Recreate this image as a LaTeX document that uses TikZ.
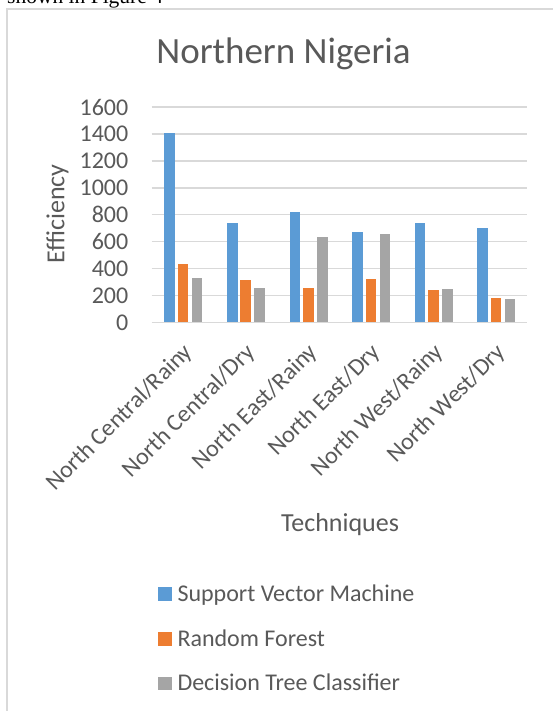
\documentclass[tikz,border=0pt]{standalone}
\usepackage{fontspec}
\setmainfont{Carlito}
\newfontfamily\serifx{Liberation Serif}
\definecolor{txtgray}{HTML}{595959}
\definecolor{gridgray}{HTML}{D9D9D9}
\definecolor{svmblue}{HTML}{5B9BD5}
\definecolor{rforange}{HTML}{ED7D31}
\definecolor{dtgray}{HTML}{A5A5A5}
\begin{document}
\begin{tikzpicture}[x=1pt,y=-1pt,
  gridline/.style={draw=gridgray,line width=1.5pt},
  frameline/.style={draw=gridgray,line width=1.6pt},
  ticklbl/.style={anchor=east,inner sep=0pt,text=txtgray,font=\fontsize{24}{28}\selectfont},
  catlbl/.style={anchor=east,inner sep=0pt,rotate=45,text=txtgray,font=\fontsize{24}{28}\selectfont},
  legtxt/.style={anchor=base west,inner sep=0pt,text=txtgray,font=\fontsize{24}{28}\selectfont},
  axtitle/.style={inner sep=0pt,text=txtgray,font=\fontsize{26}{30}\selectfont},
  barsvm/.style={fill=svmblue},
  barrf/.style={fill=rforange},
  bardt/.style={fill=dtgray}]
\useasboundingbox (0,0) rectangle (553,711);
\clip (0,0) rectangle (553,711);
% page text above the chart
\node[anchor=base west,inner sep=0pt,font=\serifx\fontsize{21.5}{24}\selectfont] (pagetext) at (7,4) {shown in Figure 4};
% chart frame
\draw[frameline] (7,720) -- (7,8.8) -- (560,8.8);
% title
\node[anchor=base,inner sep=0pt,text=txtgray,font=\fontsize{37}{42}\selectfont] (title) at (283.5,63.3) {Northern Nigeria};
% gridlines and tick labels
\def\yz{322.3}
\def\ys{0.1345}
\foreach \v in {0,200,...,1600}{
  \draw[gridline] (151.7,{\yz-\v*\ys}) -- (527.3,{\yz-\v*\ys});
  \node[ticklbl] (tick\v) at (128.5,{\yz-\v*\ys}) {\v};
}
% bars
\def\cw{62.6}
\foreach \i/\a/\b/\c in {0/1410/433/330,1/738/318/256,2/822/257/634,3/674/320/656,4/738/240/248,5/699/178/171}{
  \pgfmathsetmacro{\xs}{151.7+\i*\cw}
  \fill[barsvm] ({\xs+12.6},\yz) rectangle ({\xs+23.3},{\yz-\a*\ys});
  \fill[barrf] ({\xs+26.0},\yz) rectangle ({\xs+36.6},{\yz-\b*\ys});
  \fill[bardt] ({\xs+40.0},\yz) rectangle ({\xs+50.6},{\yz-\c*\ys});
}
% category labels
\foreach \i/\t in {0/North Central\slash Rainy,1/North Central\slash Dry,2/North East\slash Rainy,3/North East\slash Dry,4/North West\slash Rainy,5/North West\slash Dry}{
  \node[catlbl] (cat\i) at ({151.7+(\i+0.5)*\cw+6},349) {\t};
}
% axis titles
\node[axtitle,rotate=90] (ytitle) at (57.5,214) {Efficiency};
\node[axtitle,anchor=base] (xtitle) at (340,531.7) {Techniques};
% legend
\fill[svmblue] (158.3,587.3) rectangle (171.7,600.7);
\node[legtxt] (legsvm) at (177.3,601.7) {Support Vector Machine};
\fill[rforange] (158.3,632.3) rectangle (171.7,645.7);
\node[legtxt] (legrf) at (177.3,646.2) {Random Forest};
\fill[dtgray] (158.3,677.0) rectangle (171.7,690.4);
\node[legtxt] (legdt) at (177.3,690.9) {Decision Tree Classifier};
\end{tikzpicture}
\end{document}
